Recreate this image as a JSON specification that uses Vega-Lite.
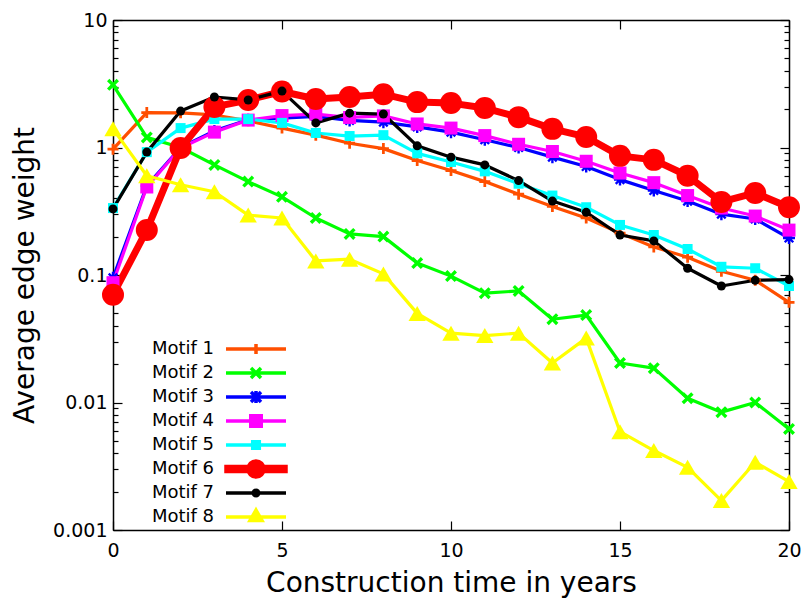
{
  "$schema": "https://vega.github.io/schema/vega-lite/v6.json",
  "width": 676,
  "height": 510,
  "autosize": {"type": "none"},
  "padding": {"left": 113, "top": 20, "right": 16, "bottom": 71},
  "background": "white",
  "config": {
    "font": "DejaVu Sans",
    "view": {"stroke": "black", "strokeWidth": 1},
    "axis": {
      "grid": false,
      "domainColor": "black",
      "domainWidth": 1.5,
      "tickColor": "black",
      "tickWidth": 1.2,
      "labelColor": "black",
      "titleColor": "black",
      "labelFont": "DejaVu Sans",
      "titleFont": "DejaVu Sans",
      "titleFontWeight": "normal",
      "labelFontSize": 19,
      "titleFontSize": 28
    }
  },
  "data": {
    "values": [
      {"t":0,"motif":"Motif 1","w":0.97},{"t":1,"motif":"Motif 1","w":1.88},{"t":2,"motif":"Motif 1","w":1.87},{"t":3,"motif":"Motif 1","w":1.8},{"t":4,"motif":"Motif 1","w":1.62},{"t":5,"motif":"Motif 1","w":1.42},{"t":6,"motif":"Motif 1","w":1.25},{"t":7,"motif":"Motif 1","w":1.08},{"t":8,"motif":"Motif 1","w":0.98},{"t":9,"motif":"Motif 1","w":0.79},{"t":10,"motif":"Motif 1","w":0.66},{"t":11,"motif":"Motif 1","w":0.54},{"t":12,"motif":"Motif 1","w":0.43},{"t":13,"motif":"Motif 1","w":0.345},{"t":14,"motif":"Motif 1","w":0.28},{"t":15,"motif":"Motif 1","w":0.213},{"t":16,"motif":"Motif 1","w":0.166},{"t":17,"motif":"Motif 1","w":0.138},{"t":18,"motif":"Motif 1","w":0.107},{"t":19,"motif":"Motif 1","w":0.091},{"t":20,"motif":"Motif 1","w":0.061},
      {"t":0,"motif":"Motif 2","w":3.1},{"t":1,"motif":"Motif 2","w":1.2},{"t":2,"motif":"Motif 2","w":1.0},{"t":3,"motif":"Motif 2","w":0.73},{"t":4,"motif":"Motif 2","w":0.54},{"t":5,"motif":"Motif 2","w":0.41},{"t":6,"motif":"Motif 2","w":0.28},{"t":7,"motif":"Motif 2","w":0.21},{"t":8,"motif":"Motif 2","w":0.2},{"t":9,"motif":"Motif 2","w":0.124},{"t":10,"motif":"Motif 2","w":0.098},{"t":11,"motif":"Motif 2","w":0.072},{"t":12,"motif":"Motif 2","w":0.075},{"t":13,"motif":"Motif 2","w":0.045},{"t":14,"motif":"Motif 2","w":0.0485},{"t":15,"motif":"Motif 2","w":0.0204},{"t":16,"motif":"Motif 2","w":0.0186},{"t":17,"motif":"Motif 2","w":0.0108},{"t":18,"motif":"Motif 2","w":0.0084},{"t":19,"motif":"Motif 2","w":0.01},{"t":20,"motif":"Motif 2","w":0.0062},
      {"t":0,"motif":"Motif 3","w":0.095},{"t":1,"motif":"Motif 3","w":0.5},{"t":2,"motif":"Motif 3","w":1.0},{"t":3,"motif":"Motif 3","w":1.35},{"t":4,"motif":"Motif 3","w":1.65},{"t":5,"motif":"Motif 3","w":1.7},{"t":6,"motif":"Motif 3","w":1.75},{"t":7,"motif":"Motif 3","w":1.63},{"t":8,"motif":"Motif 3","w":1.58},{"t":9,"motif":"Motif 3","w":1.45},{"t":10,"motif":"Motif 3","w":1.32},{"t":11,"motif":"Motif 3","w":1.15},{"t":12,"motif":"Motif 3","w":1.0},{"t":13,"motif":"Motif 3","w":0.84},{"t":14,"motif":"Motif 3","w":0.71},{"t":15,"motif":"Motif 3","w":0.56},{"t":16,"motif":"Motif 3","w":0.46},{"t":17,"motif":"Motif 3","w":0.38},{"t":18,"motif":"Motif 3","w":0.3},{"t":19,"motif":"Motif 3","w":0.275},{"t":20,"motif":"Motif 3","w":0.195},
      {"t":0,"motif":"Motif 4","w":0.087},{"t":1,"motif":"Motif 4","w":0.49},{"t":2,"motif":"Motif 4","w":0.99},{"t":3,"motif":"Motif 4","w":1.32},{"t":4,"motif":"Motif 4","w":1.64},{"t":5,"motif":"Motif 4","w":1.78},{"t":6,"motif":"Motif 4","w":1.83},{"t":7,"motif":"Motif 4","w":1.72},{"t":8,"motif":"Motif 4","w":1.77},{"t":9,"motif":"Motif 4","w":1.53},{"t":10,"motif":"Motif 4","w":1.42},{"t":11,"motif":"Motif 4","w":1.24},{"t":12,"motif":"Motif 4","w":1.06},{"t":13,"motif":"Motif 4","w":0.93},{"t":14,"motif":"Motif 4","w":0.78},{"t":15,"motif":"Motif 4","w":0.63},{"t":16,"motif":"Motif 4","w":0.53},{"t":17,"motif":"Motif 4","w":0.42},{"t":18,"motif":"Motif 4","w":0.335},{"t":19,"motif":"Motif 4","w":0.29},{"t":20,"motif":"Motif 4","w":0.225},
      {"t":0,"motif":"Motif 5","w":0.335},{"t":1,"motif":"Motif 5","w":0.92},{"t":2,"motif":"Motif 5","w":1.42},{"t":3,"motif":"Motif 5","w":1.67},{"t":4,"motif":"Motif 5","w":1.67},{"t":5,"motif":"Motif 5","w":1.56},{"t":6,"motif":"Motif 5","w":1.3},{"t":7,"motif":"Motif 5","w":1.23},{"t":8,"motif":"Motif 5","w":1.25},{"t":9,"motif":"Motif 5","w":0.9},{"t":10,"motif":"Motif 5","w":0.77},{"t":11,"motif":"Motif 5","w":0.65},{"t":12,"motif":"Motif 5","w":0.52},{"t":13,"motif":"Motif 5","w":0.42},{"t":14,"motif":"Motif 5","w":0.34},{"t":15,"motif":"Motif 5","w":0.247},{"t":16,"motif":"Motif 5","w":0.206},{"t":17,"motif":"Motif 5","w":0.16},{"t":18,"motif":"Motif 5","w":0.116},{"t":19,"motif":"Motif 5","w":0.113},{"t":20,"motif":"Motif 5","w":0.082},
      {"t":0,"motif":"Motif 6","w":0.07},{"t":1,"motif":"Motif 6","w":0.225},{"t":2,"motif":"Motif 6","w":0.99},{"t":3,"motif":"Motif 6","w":2.08},{"t":4,"motif":"Motif 6","w":2.36},{"t":5,"motif":"Motif 6","w":2.75},{"t":6,"motif":"Motif 6","w":2.4},{"t":7,"motif":"Motif 6","w":2.49},{"t":8,"motif":"Motif 6","w":2.62},{"t":9,"motif":"Motif 6","w":2.27},{"t":10,"motif":"Motif 6","w":2.23},{"t":11,"motif":"Motif 6","w":2.04},{"t":12,"motif":"Motif 6","w":1.73},{"t":13,"motif":"Motif 6","w":1.4},{"t":14,"motif":"Motif 6","w":1.21},{"t":15,"motif":"Motif 6","w":0.86},{"t":16,"motif":"Motif 6","w":0.8},{"t":17,"motif":"Motif 6","w":0.6},{"t":18,"motif":"Motif 6","w":0.374},{"t":19,"motif":"Motif 6","w":0.44},{"t":20,"motif":"Motif 6","w":0.34},
      {"t":0,"motif":"Motif 7","w":0.33},{"t":1,"motif":"Motif 7","w":0.92},{"t":2,"motif":"Motif 7","w":1.93},{"t":3,"motif":"Motif 7","w":2.49},{"t":4,"motif":"Motif 7","w":2.36},{"t":5,"motif":"Motif 7","w":2.77},{"t":6,"motif":"Motif 7","w":1.56},{"t":7,"motif":"Motif 7","w":1.86},{"t":8,"motif":"Motif 7","w":1.83},{"t":9,"motif":"Motif 7","w":1.03},{"t":10,"motif":"Motif 7","w":0.84},{"t":11,"motif":"Motif 7","w":0.73},{"t":12,"motif":"Motif 7","w":0.55},{"t":13,"motif":"Motif 7","w":0.38},{"t":14,"motif":"Motif 7","w":0.31},{"t":15,"motif":"Motif 7","w":0.206},{"t":16,"motif":"Motif 7","w":0.185},{"t":17,"motif":"Motif 7","w":0.113},{"t":18,"motif":"Motif 7","w":0.082},{"t":19,"motif":"Motif 7","w":0.091},{"t":20,"motif":"Motif 7","w":0.092},
      {"t":0,"motif":"Motif 8","w":1.4},{"t":1,"motif":"Motif 8","w":0.6},{"t":2,"motif":"Motif 8","w":0.51},{"t":3,"motif":"Motif 8","w":0.45},{"t":4,"motif":"Motif 8","w":0.295},{"t":5,"motif":"Motif 8","w":0.28},{"t":6,"motif":"Motif 8","w":0.129},{"t":7,"motif":"Motif 8","w":0.133},{"t":8,"motif":"Motif 8","w":0.102},{"t":9,"motif":"Motif 8","w":0.05},{"t":10,"motif":"Motif 8","w":0.035},{"t":11,"motif":"Motif 8","w":0.0335},{"t":12,"motif":"Motif 8","w":0.035},{"t":13,"motif":"Motif 8","w":0.0204},{"t":14,"motif":"Motif 8","w":0.032},{"t":15,"motif":"Motif 8","w":0.0059},{"t":16,"motif":"Motif 8","w":0.0042},{"t":17,"motif":"Motif 8","w":0.0031},{"t":18,"motif":"Motif 8","w":0.0017},{"t":19,"motif":"Motif 8","w":0.0034},{"t":20,"motif":"Motif 8","w":0.0024}
    ]
  },
  "resolve": {"axis": {"x": "independent", "y": "independent"}},
  "layer": [
    {
      "mark": {"type": "line", "strokeJoin": "round", "strokeCap": "round"},
      "encoding": {
        "x": {
          "field": "t", "type": "quantitative",
          "scale": {"domain": [0, 20], "nice": false, "zero": false},
          "axis": {"orient": "bottom", "values": [0, 5, 10, 15, 20], "tickSize": -9, "labelPadding": 20, "labelFlush": false, "title": "Construction time in years", "titlePadding": 9}
        },
        "y": {
          "field": "w", "type": "quantitative",
          "scale": {"type": "log", "domain": [0.001, 10], "nice": false},
          "axis": {"orient": "left", "values": [0.001, 0.01, 0.1, 1, 10], "format": "~g", "tickSize": -9, "labelPadding": 15, "title": "Average edge weight", "titlePadding": 13}
        },
        "stroke": {
          "field": "motif", "type": "nominal",
          "scale": {
            "domain": ["Motif 1", "Motif 2", "Motif 3", "Motif 4", "Motif 5", "Motif 6", "Motif 7", "Motif 8"],
            "range": ["#ff4f00", "#00ff00", "#0000ff", "#ff00ff", "#00ffff", "#ff0000", "#000000", "#ffff00"]
          },
          "legend": {
            "orient": "none", "legendX": 134, "legendY": 320, "title": null,
            "symbolType": "stroke", "symbolSize": 100, "symbolStrokeWidth": 3.5,
            "labelAlign": "right", "labelOffset": -51, "labelFontSize": 18, "labelFont": "DejaVu Sans", "labelColor": "black", "labelLimit": 0,
            "gridAlign": "all", "rowPadding": -9, "padding": 0,
            "encode": {
              "symbols": {
                "update": {
                  "fill": {"scale": "stroke", "field": "value"},
                  "stroke": {"scale": "stroke", "field": "value"},
                  "opacity": {"value": 1},
                  "shape": {"signal": "datum.value === 'Motif 1' ? 'M-6,0H6M0,-1V1' : datum.value === 'Motif 2' ? 'M-6,0H6M-1,-1L1,1M-1,1L1,-1' : datum.value === 'Motif 3' ? 'M-6,0H6M-1,-1L1,1M-1,1L1,-1M0,-1.2V1.2' : datum.value === 'Motif 4' ? 'M-6,0H6M-1.05,-1.05H1.05V1.05H-1.05Z' : datum.value === 'Motif 5' ? 'M-6,0H6M-0.66,-0.66H0.66V0.66H-0.66Z' : datum.value === 'Motif 6' ? 'M-6,-0.48H6V0.48H-6ZM-1.6,0C-1.6,-0.884,-0.884,-1.6,0,-1.6C0.884,-1.6,1.6,-0.884,1.6,0C1.6,0.884,0.884,1.6,0,1.6C-0.884,1.6,-1.6,0.884,-1.6,0Z' : datum.value === 'Motif 7' ? 'M-6,0H6M-0.55,0C-0.55,-0.304,-0.304,-0.55,0,-0.55C0.304,-0.55,0.55,-0.304,0.55,0C0.55,0.304,0.304,0.55,0,0.55C-0.304,0.55,-0.55,0.304,-0.55,0Z' : 'M-6,0H6M0,-1.38L1.2,0.72L-1.2,0.72Z'"}
                }
              }
            }
          }
        },
        "strokeWidth": {"condition": {"test": "datum.motif === 'Motif 6'", "value": 7}, "value": 3.2}
      }
    },
    {
      "mark": {"type": "point", "filled": true, "opacity": 1, "strokeWidth": 0},
      "encoding": {
        "x": {"field": "t", "type": "quantitative", "axis": {"orient": "top", "values": [0, 5, 10, 15, 20], "tickSize": -9, "labels": false, "title": null}},
        "y": {"field": "w", "type": "quantitative", "axis": {"orient": "right", "values": [0.001, 0.01, 0.1, 1, 10], "tickSize": -9, "labels": false, "title": null}},
        "fill": {
          "field": "motif", "type": "nominal",
          "scale": {"range": ["#ff4f00", "#00ff00", "#0000ff", "#ff00ff", "#00ffff", "#ff0000", "#000000", "#ffff00"]},
          "legend": null
        },
        "shape": {
          "field": "motif", "type": "nominal",
          "scale": {
            "range": [
              "M-1,-0.25H-0.25V-1H0.25V-0.25H1V0.25H0.25V1H-0.25V0.25H-1Z",
              "M-1,-0.6L-0.6,-1L0,-0.4L0.6,-1L1,-0.6L0.4,0L1,0.6L0.6,1L0,0.4L-0.6,1L-1,0.6L-0.4,0Z",
              "M-1,-0.2H-0.2V-1H0.2V-0.2H1V0.2H0.2V1H-0.2V0.2H-1Z M-0.85,-0.57L-0.57,-0.85L0,-0.28L0.57,-0.85L0.85,-0.57L0.28,0L0.85,0.57L0.57,0.85L0,0.28L-0.57,0.85L-0.85,0.57L-0.28,0Z",
              "square",
              "square",
              "circle",
              "circle",
              "triangle-up"
            ]
          },
          "legend": null
        },
        "size": {
          "condition": [
            {"test": "datum.motif === 'Motif 1'", "value": 121},
            {"test": "datum.motif === 'Motif 4'", "value": 169},
            {"test": "datum.motif === 'Motif 5'", "value": 100},
            {"test": "datum.motif === 'Motif 6'", "value": 484},
            {"test": "datum.motif === 'Motif 7'", "value": 81},
            {"test": "datum.motif === 'Motif 8'", "value": 300}
          ],
          "value": 144
        }
      }
    },
    {
      "mark": {"type": "point", "opacity": 0},
      "encoding": {
        "x": {"field": "t", "type": "quantitative", "axis": null},
        "y": {"field": "w", "type": "quantitative", "axis": {"orient": "left", "values": [0.002,0.003,0.004,0.005,0.006,0.007,0.008,0.009,0.02,0.03,0.04,0.05,0.06,0.07,0.08,0.09,0.2,0.3,0.4,0.5,0.6,0.7,0.8,0.9,2,3,4,5,6,7,8,9], "tickSize": -5, "labels": false, "title": null, "domain": false}}
      }
    },
    {
      "mark": {"type": "point", "opacity": 0},
      "encoding": {
        "x": {"field": "t", "type": "quantitative", "axis": null},
        "y": {"field": "w", "type": "quantitative", "axis": {"orient": "right", "values": [0.002,0.003,0.004,0.005,0.006,0.007,0.008,0.009,0.02,0.03,0.04,0.05,0.06,0.07,0.08,0.09,0.2,0.3,0.4,0.5,0.6,0.7,0.8,0.9,2,3,4,5,6,7,8,9], "tickSize": -5, "labels": false, "title": null, "domain": false}}
      }
    }
  ]
}
